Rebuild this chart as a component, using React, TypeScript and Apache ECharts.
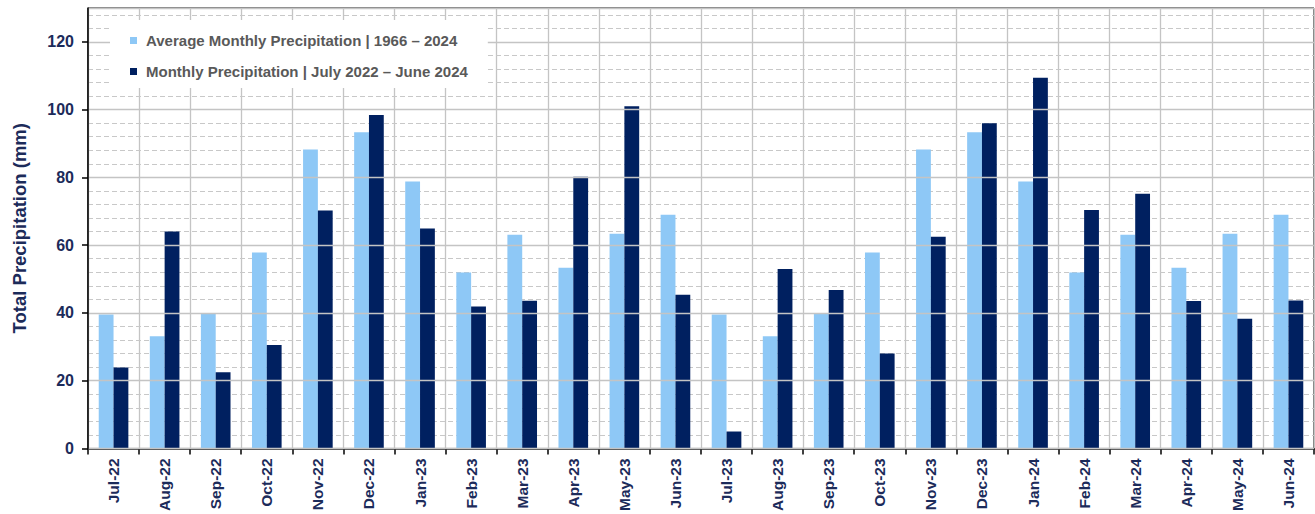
import React, { useEffect, useRef } from "react";
import * as echarts from "echarts";

const categories = [
  "Jul-22", "Aug-22", "Sep-22", "Oct-22", "Nov-22", "Dec-22",
  "Jan-23", "Feb-23", "Mar-23", "Apr-23", "May-23", "Jun-23",
  "Jul-23", "Aug-23", "Sep-23", "Oct-23", "Nov-23", "Dec-23",
  "Jan-24", "Feb-24", "Mar-24", "Apr-24", "May-24", "Jun-24",
];

const averageMonthly = [
  39.5, 33.1, 39.8, 57.8, 88.2, 93.3, 78.8, 51.9, 63.1, 53.3, 63.4, 69.0,
  39.5, 33.1, 39.8, 57.8, 88.2, 93.3, 78.8, 51.9, 63.1, 53.3, 63.4, 69.0,
];

const monthlyActual = [
  23.9, 64.0, 22.5, 30.5, 70.2, 98.4, 64.9, 41.9, 43.6, 80.2, 101.0, 45.4,
  5.0, 53.0, 46.8, 28.0, 62.5, 96.0, 109.4, 70.4, 75.2, 43.5, 38.3, 43.7,
];

const seriesNames = [
  "Average Monthly Precipitation | 1966 \u2013 2024",
  "Monthly Precipitation | July 2022 \u2013 June 2024",
];

const yAxisTitle = "Total Precipitation (mm)";

const FONT = "'Liberation Sans', Arial, sans-serif";
const NAVY_TEXT = "#1c2b5a";

export default function App() {
  const ref = useRef<HTMLDivElement>(null);

  useEffect(() => {
    if (!ref.current) return;
    const chart = echarts.init(ref.current, undefined, { renderer: "svg" });
    chart.setOption({
      animation: false,
      textStyle: { fontFamily: FONT },
      grid: {
        left: 88,
        right: 1,
        top: 8,
        bottom: 65,
        show: true,
        borderColor: "#000",
        borderWidth: 1,
        backgroundColor: "transparent",
      },
      legend: {
        orient: "vertical",
        left: 110,
        top: 20,
        backgroundColor: "#fff",
        padding: [13, 20, 9, 20],
        itemGap: 16,
        itemWidth: 7,
        itemHeight: 7,
        icon: "rect",
        selectedMode: false,
        textStyle: {
          fontFamily: FONT,
          fontSize: 15,
          fontWeight: "bold",
          color: "#595959",
          padding: [0, 0, 0, 4],
        },
        data: seriesNames,
      },
      xAxis: {
        type: "category",
        data: categories,
        boundaryGap: true,
        axisLine: { show: true, lineStyle: { color: "#000", width: 1.5 } },
        axisTick: { show: true, length: 6, lineStyle: { color: "#000", width: 1.5 } },
        splitLine: { show: true, lineStyle: { color: "#c4c4c4", width: 1.3 } },
        axisLabel: {
          rotate: 90,
          interval: 0,
          margin: 10,
          fontFamily: FONT,
          fontSize: 15.5,
          fontWeight: "bold",
          color: NAVY_TEXT,
        },
      },
      yAxis: [
        {
          type: "value",
          min: 0,
          max: 130,
          interval: 20,
          name: yAxisTitle,
          nameLocation: "middle",
          nameGap: 59,
          nameTextStyle: {
            fontFamily: FONT,
            fontSize: 18.5,
            fontWeight: "bold",
            color: NAVY_TEXT,
          },
          axisLine: { show: true, lineStyle: { color: "#000", width: 1.5 } },
          axisTick: { show: true, length: 6, lineStyle: { color: "#000", width: 1.5 } },
          splitLine: { show: true, lineStyle: { color: "#c4c4c4", width: 1.3 } },
          axisLabel: {
            margin: 14,
            fontFamily: FONT,
            fontSize: 16,
            fontWeight: "bold",
            color: NAVY_TEXT,
            showMaxLabel: false,
            formatter: (v: number) => (v % 20 === 0 ? String(v) : ""),
          },
          z: 3,
        },
        {
          type: "value",
          min: 0,
          max: 130,
          interval: 4,
          position: "left",
          axisLine: { show: false },
          axisTick: { show: false },
          axisLabel: { show: false },
          splitLine: {
            show: true,
            lineStyle: {
              color: ["transparent", "#c8c8c8", "#c8c8c8", "#c8c8c8", "#c8c8c8"],
              type: [5, 3],
              width: 1.2,
            },
          },
          z: 1,
        },
      ],
      series: [
        {
          name: seriesNames[0],
          type: "bar",
          yAxisIndex: 0,
          data: averageMonthly,
          itemStyle: { color: "#8ec8f6" },
          barGap: "0%",
          barCategoryGap: "42%",
        },
        {
          name: seriesNames[1],
          type: "bar",
          yAxisIndex: 0,
          data: monthlyActual,
          itemStyle: { color: "#002060" },
          barGap: "0%",
          barCategoryGap: "42%",
        },
      ],
    });
    return () => chart.dispose();
  }, []);

  return (
    <div
      ref={ref}
      style={{ width: 1315, height: 514, position: "absolute", left: 0, top: 0 }}
    />
  );
}
